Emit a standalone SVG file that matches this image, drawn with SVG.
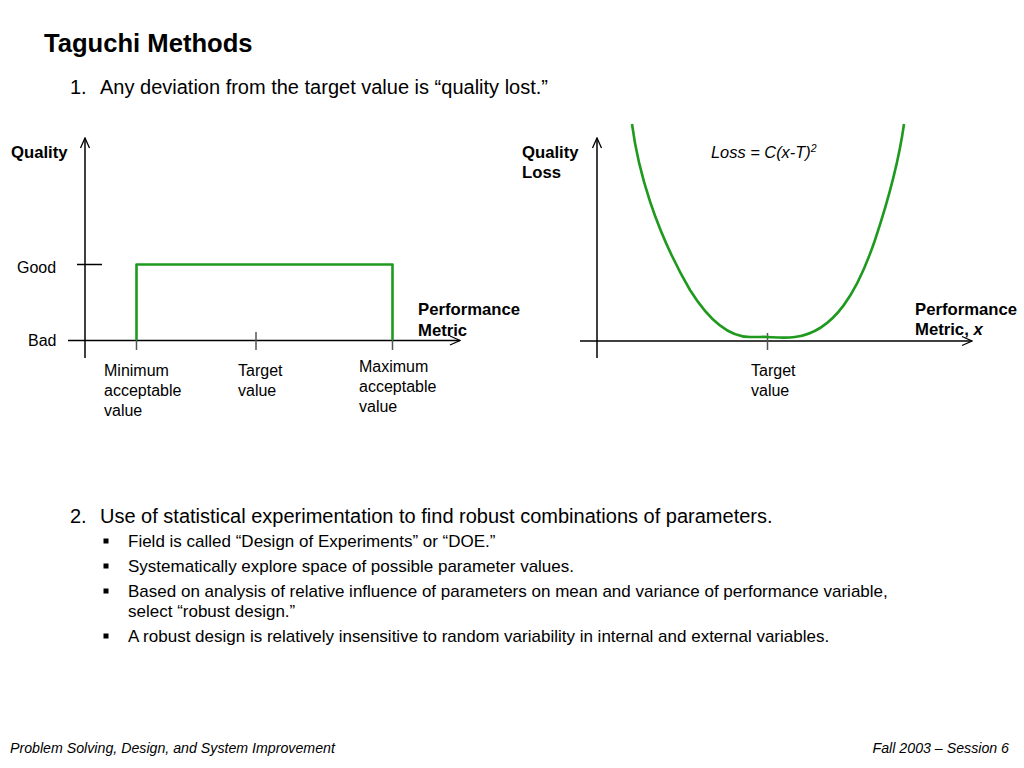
<svg xmlns="http://www.w3.org/2000/svg" width="1024" height="768" viewBox="0 0 1024 768">
<defs>
<marker id="arr" viewBox="0 0 12 12" refX="11" refY="6" markerWidth="12" markerHeight="12" markerUnits="userSpaceOnUse" orient="auto">
<polyline points="1,1.5 11,6 1,10.5" fill="none" stroke="#000" stroke-width="1.3"/>
</marker>
</defs>
<style>
text{font-family:"Liberation Sans",Arial,sans-serif;fill:#000}
.b{font-weight:bold;font-size:16.7px}
.lbl{font-size:16px}
.ax{stroke:#000;stroke-width:1.5;fill:none}
.tk{stroke:#555;stroke-width:1.5}
.grn{stroke:#1f9a1f;stroke-width:2.6;fill:none;stroke-linejoin:round}
.ft{font-size:14.2px;font-style:italic}
.bl{font-size:17px}
</style>
<rect width="1024" height="768" fill="#fff"/>

<g id="title">
<text x="44" y="52" font-weight="bold" font-size="25.6">Taguchi Methods</text>
<text x="70" y="94" font-size="20">1.</text>
<text x="100" y="94" font-size="20">Any deviation from the target value is “quality lost.”</text>
</g>

<g id="left-chart">
<line class="ax" x1="85" y1="358" x2="85" y2="138" marker-end="url(#arr)"/>
<line class="ax" x1="68" y1="340.5" x2="460" y2="340.5" marker-end="url(#arr)"/>
<line class="ax" x1="77" y1="264.5" x2="102" y2="264.5"/>
<line class="tk" x1="256" y1="332" x2="256" y2="350"/>
<line class="tk" x1="136.5" y1="340" x2="136.5" y2="350"/>
<line class="tk" x1="392.5" y1="340" x2="392.5" y2="350"/>
<polyline class="grn" points="136.5,340 136.5,264.5 392.5,264.5 392.5,340"/>
<text x="11" y="158" class="b">Quality</text>
<text x="17" y="273" class="lbl">Good</text>
<text x="28" y="346" class="lbl">Bad</text>
<text class="b"><tspan x="418" y="315">Performance</tspan><tspan x="418" y="336">Metric</tspan></text>
<text class="lbl"><tspan x="104" y="376">Minimum</tspan><tspan x="104" y="396">acceptable</tspan><tspan x="104" y="416">value</tspan></text>
<text class="lbl"><tspan x="238" y="376">Target</tspan><tspan x="238" y="396">value</tspan></text>
<text class="lbl"><tspan x="359" y="372">Maximum</tspan><tspan x="359" y="392">acceptable</tspan><tspan x="359" y="412">value</tspan></text>
</g>

<g id="right-chart">
<line class="ax" x1="597" y1="358" x2="597" y2="138" marker-end="url(#arr)"/>
<line class="ax" x1="580" y1="341" x2="972" y2="341" marker-end="url(#arr)"/>
<line class="tk" x1="767.5" y1="333" x2="767.5" y2="350"/>
<path class="grn" d="M 632 124 C 638 170, 655 230, 690 290 C 710 322, 730 337, 750 337 L 760 337 C 768 336, 780 339, 795 337 C 835 332, 858 290, 875 240 C 889 198, 899 160, 904 124"/>
<text class="b"><tspan x="522" y="158">Quality</tspan><tspan x="522" y="178">Loss</tspan></text>
<text x="711" y="158" font-size="16.4" font-style="italic">Loss = C(x-T)<tspan font-size="10.5" dy="-6">2</tspan></text>
<text class="b"><tspan x="915" y="315">Performance</tspan><tspan x="915" y="335">Metric, <tspan font-style="italic">x</tspan></tspan></text>
<text class="lbl"><tspan x="751" y="376">Target</tspan><tspan x="751" y="396">value</tspan></text>
</g>

<g id="point2">
<text x="70" y="523" font-size="20">2.</text>
<text x="100" y="523" font-size="20">Use of statistical experimentation to find robust combinations of parameters.</text>
<g fill="#000">
<rect x="103.5" y="538.5" width="5" height="5"/>
<rect x="103.5" y="563.5" width="5" height="5"/>
<rect x="103.5" y="588.5" width="5" height="5"/>
<rect x="103.5" y="633.5" width="5" height="5"/>
</g>
<text x="128" y="547" class="bl">Field is called “Design of Experiments” or “DOE.”</text>
<text x="128" y="572" class="bl">Systematically explore space of possible parameter values.</text>
<text x="128" y="597" class="bl">Based on analysis of relative influence of parameters on mean and variance of performance variable,</text>
<text x="128" y="617" class="bl">select “robust design.”</text>
<text x="128" y="642" class="bl">A robust design is relatively insensitive to random variability in internal and external variables.</text>
</g>

<g id="footer">
<text x="10" y="753" class="ft">Problem Solving, Design, and System Improvement</text>
<text x="1009" y="753" class="ft" text-anchor="end">Fall 2003 – Session 6</text>
</g>
</svg>
